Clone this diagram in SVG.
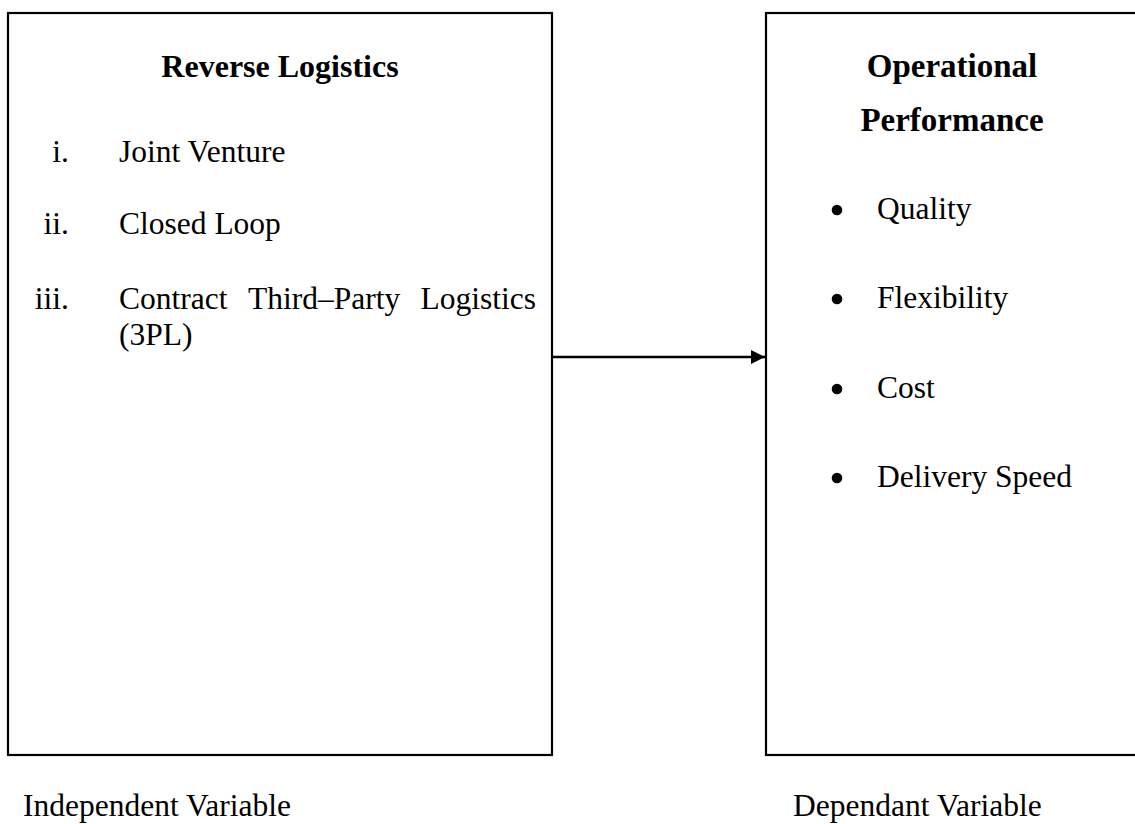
<svg xmlns="http://www.w3.org/2000/svg" width="1135" height="824" viewBox="0 0 1135 824">
<defs>
<style>
.box{fill:#fff;stroke:#000;stroke-width:2.2}
.t{font-family:"Liberation Serif","Times New Roman",serif;font-size:31.5px;fill:#000}
.b{font-weight:bold;font-size:32px}
.b2{font-weight:bold;font-size:33px}
.conn{stroke:#000;stroke-width:2.5;fill:none}
</style>
<marker id="ah" viewBox="0 0 10 10" refX="10" refY="5" markerWidth="5.6" markerHeight="6" markerUnits="strokeWidth" orient="auto">
<path d="M0,0 L10,5 L0,10 z" fill="#000"/>
</marker>
</defs>
<rect width="1135" height="824" fill="#fff"/>
<g id="reverse-logistics">
<rect class="box" x="8" y="13" width="544" height="742"/>
<text class="t b" x="280" y="77" text-anchor="middle">Reverse Logistics</text>
<text class="t" x="69" y="162" text-anchor="end">i.</text>
<text class="t" x="119" y="162">Joint Venture</text>
<text class="t" x="69" y="234" text-anchor="end">ii.</text>
<text class="t" x="119" y="234">Closed Loop</text>
<text class="t" x="69" y="309" text-anchor="end">iii.</text>
<text class="t" x="119" y="309">Contract</text>
<text class="t" x="248" y="309">Third–Party</text>
<text class="t" x="536" y="309" text-anchor="end">Logistics</text>
<text class="t" x="119" y="345">(3PL)</text>
</g>
<g id="operational-performance">
<rect class="box" x="766" y="13" width="380" height="742"/>
<text class="t b2" x="952" y="77" text-anchor="middle">Operational</text>
<text class="t b2" x="952" y="131" text-anchor="middle">Performance</text>
<circle cx="837" cy="210" r="5.3"/>
<text class="t" x="877" y="219">Quality</text>
<circle cx="837" cy="299" r="5.3"/>
<text class="t" x="877" y="308">Flexibility</text>
<circle cx="837" cy="389" r="5.3"/>
<text class="t" x="877" y="398">Cost</text>
<circle cx="837" cy="478" r="5.3"/>
<text class="t" x="877" y="487">Delivery Speed</text>
</g>
<g id="connectors">
<line class="conn" x1="552" y1="357" x2="765" y2="357" marker-end="url(#ah)"/>
</g>
<g id="labels">
<text class="t" x="23" y="816">Independent Variable</text>
<text class="t" x="793" y="816">Dependant Variable</text>
</g>
</svg>
